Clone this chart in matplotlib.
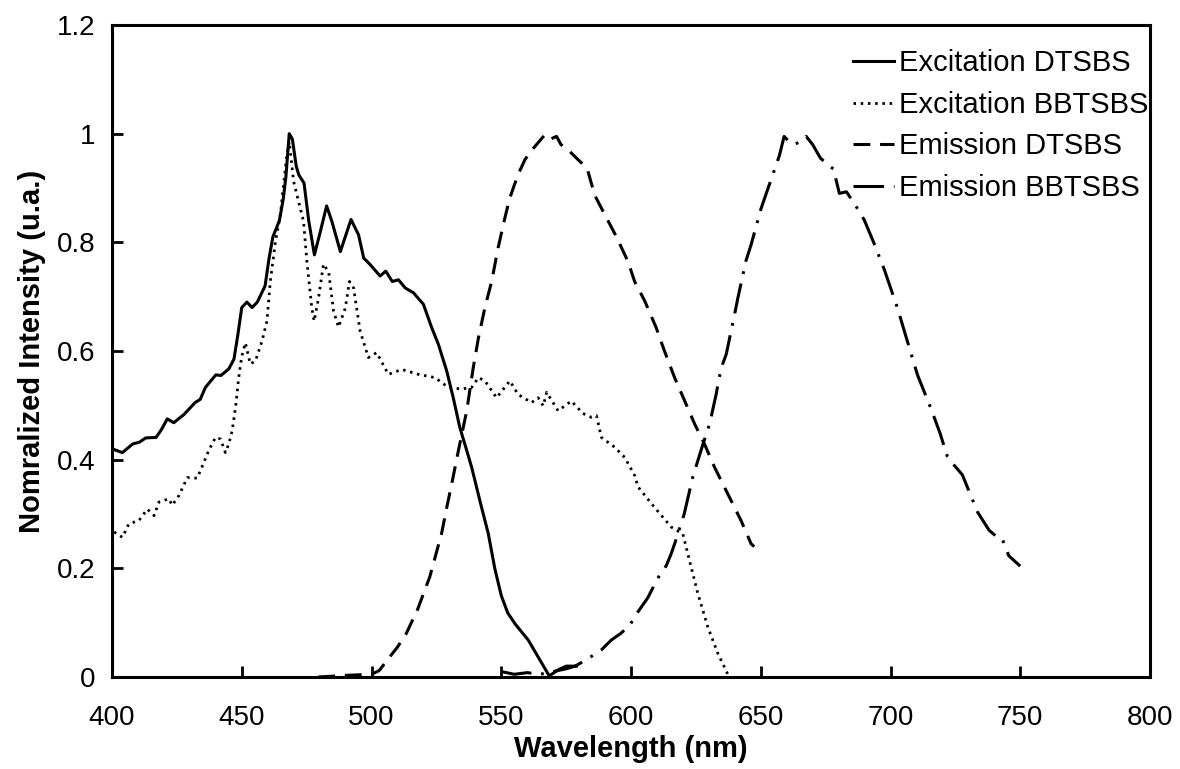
import matplotlib
matplotlib.use("Agg")
import matplotlib.pyplot as plt

plt.rcParams['font.family'] = ['Liberation Sans', 'DejaVu Sans']

# Excitation DTSBS (solid)
exc_d_x = [400, 404, 408, 410.5, 413, 417, 419, 421.3, 423.8, 427.7, 432, 434, 436, 438.6, 440, 442, 445, 447,
           448.5, 450, 452, 454, 456, 459, 460.5, 462, 464.5, 466, 467, 468.3, 469.5, 471, 472, 474, 475.8, 478,
           480.3, 482.7, 484.7, 488, 492.1, 495, 497, 499.5, 503.3, 505.5, 508, 510.4, 513, 516.2, 520, 523.2,
           525.8, 529, 531.5, 534, 536.5, 538.6, 542, 545, 547.5, 550, 552.5, 555.3, 558, 560.4, 564.2, 568.5,
           571.9, 575, 579]
exc_d_y = [0.42, 0.413, 0.429, 0.432, 0.44, 0.441, 0.455, 0.475, 0.468, 0.483, 0.505, 0.511, 0.533, 0.548, 0.556,
           0.555, 0.567, 0.585, 0.63, 0.68, 0.69, 0.68, 0.69, 0.72, 0.77, 0.81, 0.84, 0.88, 0.92, 1.0, 0.99, 0.94,
           0.924, 0.909, 0.84, 0.777, 0.82, 0.867, 0.839, 0.783, 0.842, 0.814, 0.771, 0.759, 0.738, 0.747, 0.728,
           0.731, 0.716, 0.707, 0.686, 0.643, 0.612, 0.563, 0.514, 0.46, 0.42, 0.386, 0.32, 0.264, 0.2, 0.15,
           0.118, 0.098, 0.082, 0.068, 0.037, 0.002, 0.013, 0.02, 0.02]

# Excitation BBTSBS (dotted)
exc_b_x = [400.8, 404, 406.5, 410.4, 413.6, 416.2, 418.1, 421.9, 423.2, 425.8, 429, 432.8, 434.1, 437.3, 439.9,
           441.8, 443.7, 445, 446.3, 447.6, 448.8, 450, 451.4, 453.3, 455.3, 457.8, 459.7, 461, 463, 464.9, 466.2,
           467.4, 468.3, 470, 471.9, 473.8, 475.1, 477, 477.9, 479.6, 481.5, 483.5, 485.4, 487.3, 489.9, 491.5,
           493.1, 495.6, 498.8, 502, 506.5, 511.7, 518.1, 524.5, 529.6, 534.7, 538.6, 541.2, 543.7, 548.2, 553.3,
           556.5, 561.7, 564.2, 566.2, 567.5, 571.9, 577, 581.5, 584.7, 586.7, 588.6, 593.7, 597.6, 601.4, 602.7,
           609.1, 615.5, 620, 623.2, 625.8, 629.6, 633.5, 637.3]
exc_b_y = [0.267, 0.257, 0.282, 0.288, 0.309, 0.297, 0.322, 0.328, 0.316, 0.334, 0.367, 0.366, 0.38, 0.417, 0.441,
           0.438, 0.413, 0.429, 0.453, 0.496, 0.55, 0.59, 0.615, 0.576, 0.582, 0.618, 0.655, 0.728, 0.802, 0.851,
           0.91, 0.961, 0.985, 0.912, 0.875, 0.839, 0.765, 0.679, 0.655, 0.698, 0.76, 0.745, 0.673, 0.644, 0.679,
           0.728, 0.716, 0.637, 0.588, 0.597, 0.557, 0.566, 0.557, 0.551, 0.533, 0.53, 0.533, 0.551, 0.545, 0.514,
           0.545, 0.52, 0.505, 0.514, 0.499, 0.524, 0.49, 0.508, 0.485, 0.478, 0.481, 0.441, 0.423, 0.404, 0.371,
           0.35, 0.312, 0.276, 0.263, 0.202, 0.153, 0.092, 0.043, 0.005]

# Emission DTSBS (dashed)
em_d_x = [479.5, 490, 500, 503, 506.7, 510, 513.4, 517.9, 522.5, 527, 529, 530.9, 533.5, 536.7, 539.2, 541.2,
          543.7, 546.3, 548.8, 551.4, 553.2, 555, 557, 559.1, 561.5, 563.6, 566.8, 569, 571.3, 573, 575.8, 579,
          583.1, 586, 589.9, 594.3, 598.8, 601.4, 605.3, 609.7, 612.9, 616.8, 620.7, 624.5, 628.3, 632.2, 637.3,
          642.4, 646.3, 647.5]
em_d_y = [0.0, 0.003, 0.005, 0.012, 0.035, 0.055, 0.08, 0.126, 0.185, 0.264, 0.312, 0.355, 0.417, 0.49, 0.569,
          0.624, 0.68, 0.728, 0.79, 0.845, 0.88, 0.905, 0.93, 0.952, 0.968, 0.98, 0.998, 0.99, 0.995, 0.98, 0.97,
          0.955, 0.936, 0.887, 0.851, 0.811, 0.765, 0.728, 0.692, 0.643, 0.6, 0.551, 0.508, 0.466, 0.429, 0.386,
          0.337, 0.288, 0.245, 0.24]

# Emission BBTSBS (dash-dot)
em_b_x = [550, 555, 560, 565, 570, 575, 578.5, 583.5, 588.6, 592.4, 596, 599.5, 602.7, 606.5, 610.2, 613.6, 615.5,
          616.8, 620.5, 623.8, 627.5, 630.3, 632.8, 634.7, 636.7, 639.9, 641.2, 644.3, 646.3, 650.1, 654.6, 657.2,
          659, 661, 663, 665, 667.5, 670, 673, 675.8, 678, 680.3, 683, 686, 689.9, 693.5, 697.6, 702.7, 707.8,
          710.4, 715.5, 719, 721.9, 724.5, 727.7, 733.5, 738, 741.2, 743, 745.6, 750]
em_b_y = [0.01, 0.005, 0.008, 0.005, 0.01, 0.015, 0.02, 0.034, 0.05, 0.068, 0.08, 0.095, 0.12, 0.146, 0.181, 0.205,
          0.227, 0.245, 0.3, 0.368, 0.425, 0.466, 0.52, 0.568, 0.594, 0.667, 0.698, 0.766, 0.796, 0.862, 0.924,
          0.96, 0.995, 0.985, 0.98, 0.985, 0.995, 0.98, 0.955, 0.943, 0.935, 0.89, 0.893, 0.872, 0.841, 0.8, 0.75,
          0.679, 0.597, 0.556, 0.495, 0.45, 0.406, 0.39, 0.372, 0.304, 0.27, 0.257, 0.255, 0.223, 0.204]

labels = ["Excitation DTSBS", "Excitation BBTSBS", "Emission DTSBS", "Emission BBTSBS"]
x_ticks = [400, 450, 500, 550, 600, 650, 700, 750, 800]
y_ticks = [0, 0.2, 0.4, 0.6, 0.8, 1.0, 1.2]
y_ticklabels = ["0", "0.2", "0.4", "0.6", "0.8", "1", "1.2"]

fig = plt.figure(figsize=(11.8, 7.69), dpi=100)
ax = fig.add_axes([112 / 1180, 1 - 677 / 769, (1150 - 112) / 1180, (677 - 25) / 769])

lw = 2.2
ax.plot(exc_d_x, exc_d_y, color='black', lw=lw, linestyle='-', label=labels[0])
ax.plot(exc_b_x, exc_b_y, color='black', lw=2.0, linestyle=(0, (0.9, 1.7)), label=labels[1])
ax.plot(em_d_x, em_d_y, color='black', lw=lw, linestyle=(0, (5.5, 3.2)), label=labels[2])
ax.plot(em_b_x, em_b_y, color='black', lw=lw, linestyle=(0, (10, 3.2, 0.9, 3.2)), label=labels[3])

ax.set_xlim(400, 800)
ax.set_ylim(0, 1.2)
ax.set_xticks(x_ticks)
ax.set_xticklabels([str(t) for t in x_ticks])
ax.set_yticks(y_ticks)
ax.set_yticklabels(y_ticklabels)
ax.tick_params(direction='in', length=8, width=2, labelsize=20, pad=12)
ax.tick_params(axis='x', pad=20)
for s in ax.spines.values():
    s.set_linewidth(2.2)

ax.set_xlabel("Wavelength (nm)", fontsize=21, fontweight='bold', labelpad=3)
ax.set_ylabel("Nomralized Intensity (u.a.)", fontsize=21, fontweight='bold', labelpad=8)

leg = ax.legend(loc='upper left', bbox_to_anchor=(853 / 1180, 1 - 49 / 769), bbox_transform=fig.transFigure,
                frameon=False, fontsize=21, handlelength=1.4, handletextpad=0.17, borderpad=0, borderaxespad=0,
                labelspacing=0.47)

fig.savefig("out.png", dpi=100)
